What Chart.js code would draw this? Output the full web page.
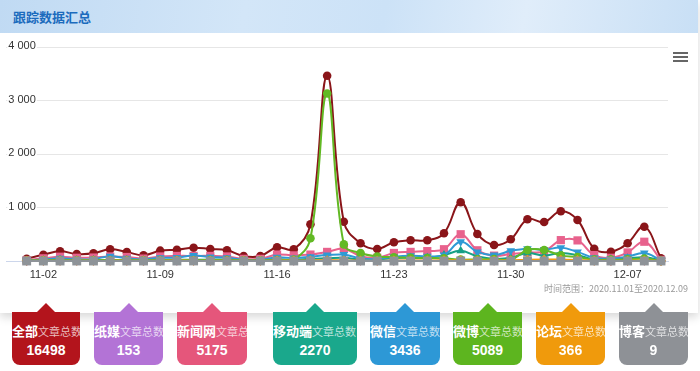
<!DOCTYPE html>
<html>
<head>
<meta charset="utf-8">
<script src="https://cdn.jsdelivr.net/npm/chart.js@4.4.0/dist/chart.umd.min.js"></script>
<style>
  html, body { margin: 0; padding: 0; background: #fff; width: 700px; height: 371px; overflow: hidden;
    font-family: Arial, "Liberation Sans", "Noto Sans CJK SC", sans-serif; }
  #panel { position: absolute; left: 0; top: 0; width: 698px; height: 313px; background: #fff;
    box-shadow: 0 4px 9px rgba(0,0,0,0.16); }
  #head { position: absolute; left: 0; top: 0; width: 698px; height: 33px;
    background: linear-gradient(100deg, #c0daf3 0%, #d3e6f8 35%, #cce2f7 55%, #e0edfa 75%, #c8dff5 100%); }
  #head span { position: absolute; left: 13px; top: 8px; font-size: 13px; font-weight: bold; color: #1b6bbd;
    font-family: "Noto Sans CJK SC", sans-serif; line-height: 18px; }
  #menu { position: absolute; left: 673px; top: 52px; width: 15px; }
  #menu i { display: block; height: 2px; background: #666; margin-bottom: 2px; }
  #range { position: absolute; right: 10px; top: 282px; font-size: 9px; color: #999; white-space: nowrap;
    font-family: "Noto Sans CJK SC", sans-serif; }
  canvas { position: absolute; left: 0; top: 33px; }
  .card { position: absolute; top: 312px; height: 53px; border-radius: 0 0 8px 8px; color: #fff; }
  .card:before { content: ""; position: absolute; top: -9px; left: 50%; margin-left: -9px;
    border-left: 9px solid transparent; border-right: 9px solid transparent; border-bottom: 9px solid; border-bottom-color: inherit; }
  .card .t { position: absolute; left: 0; top: 8px; white-space: nowrap; line-height: 18px;
    font-family: "Noto Sans CJK SC", sans-serif; }
  .card .t b { font-size: 13px; }
  .card .t span { font-size: 11px; color: rgba(255,255,255,0.72); }
  .card .n { position: absolute; left: 0; right: 0; top: 30px; text-align: center; font-size: 14px; font-weight: bold;
    line-height: 16px; }
</style>
</head>
<body>
<div id="panel">
  <div id="head"><span>跟踪数据汇总</span></div>
  <div id="menu"><i></i><i></i><i></i></div>
  <canvas id="chartTrend" width="700" height="267"></canvas>
  <div id="range">时间范围：2020.11.01至2020.12.09</div>
</div>
<div id="cards"></div>

<script>
// categories (one per day)
const dates = ['11-01','11-02','11-03','11-04','11-05','11-06','11-07','11-08','11-09','11-10',
  '11-11','11-12','11-13','11-14','11-15','11-16','11-17','11-18','11-19','11-20',
  '11-21','11-22','11-23','11-24','11-25','11-26','11-27','11-28','11-29','11-30',
  '12-01','12-02','12-03','12-04','12-05','12-06','12-07','12-08','12-09'];
const xTickLabels = ['11-02','11-09','11-16','11-23','11-30','12-07'];
const yTicks = [0, 1000, 2000, 3000, 4000];

const seriesNames = ['全部','纸媒','新闻网','移动端','微信','微博','论坛','博客'];
const totals = [16498, 153, 5175, 2270, 3436, 5089, 366, 9];

// daily values
const quanbu = [43,118,181,131,144,219,168,107,193,211,249,224,200,93,93,256,219,686,3463,734,
  331,224,350,387,387,518,1097,505,299,406,779,729,929,766,230,174,331,641,50];
const zhimei = [2,3,4,5,3,5,4,2,6,4,5,3,4,2,3,5,4,6,8,5,4,3,4,5,3,4,6,4,3,5,4,3,5,4,3,2,4,3,1];
const xinwen = [15,50,80,60,65,85,75,45,85,95,95,95,85,40,40,120,105,120,170,230,
  90,60,150,170,185,220,500,200,100,130,160,180,390,385,110,60,160,360,20];
const yidong = [5,15,25,15,20,20,20,12,20,22,25,25,25,10,10,30,25,40,50,60,
  25,25,55,60,60,110,190,90,40,60,150,100,150,110,25,35,50,70,10];
const weixin = [10,30,50,30,35,90,50,30,60,65,105,75,60,25,25,70,55,80,110,120,
  50,35,80,100,90,110,360,170,110,190,230,210,250,170,60,45,80,150,15];
const weibo = [8,15,15,15,15,12,12,12,15,15,12,20,20,12,12,20,22,425,3130,310,
  150,85,70,60,55,50,25,30,35,20,205,205,105,75,25,25,30,45,3];
const luntan = [3,6,7,6,6,7,7,6,7,8,7,6,6,4,3,8,8,10,15,9,8,6,8,10,10,12,14,10,8,12,25,28,25,20,6,5,7,10,1];
const boke = [0,0,0,0,0,0,0,0,0,0,1,0,0,0,0,0,0,1,2,1,0,0,0,0,1,0,1,0,0,0,1,0,0,1,0,0,0,0,0];

// estilos
const lineColors = ['#8a1519','#a66fcf','#e8628d','#17a085','#2f9ad5','#62b924','#f09c12','#8e9398'];
const cardColors = ['#b3141c','#b373d6','#e5567b','#1aa88c','#2d98d6','#5db51f','#f09a0c','#8e9196'];
const cardLeft = [12, 94, 177, 273, 370, 453, 536, 619];
const cardWidth = [68, 69, 70, 84, 70, 69, 69, 69];
const pointStyles = ['circle','rectRot','rect','triangle','triangle','circle','rectRot','rect'];
const pointRot = [0, 0, 0, 0, 180, 0, 0, 0];
const pointSizes = [4.3, 5, 5.8, 5, 5, 4.3, 5, 6.3];

const valores = [quanbu, zhimei, xinwen, yidong, weixin, weibo, luntan, boke];

function formatarMil(v) {
  return String(v).replace(/\B(?=(\d{3})+(?!\d))/g, ' ');
}

function desenharGrafico() {
  const ctx = document.getElementById('chartTrend').getContext('2d');
  const datasets = valores.map((serie, i) => ({
    label: seriesNames[i],
    data: serie.map((v, d) => ({ x: d, y: v })),
    borderColor: lineColors[i],
    backgroundColor: lineColors[i],
    pointBackgroundColor: lineColors[i],
    pointStyle: pointStyles[i],
    pointRotation: pointRot[i],
    pointRadius: pointSizes[i],
    pointBorderWidth: 0,
    borderWidth: 2,
    tension: 0.4,
    fill: false,
    clip: false,
    order: seriesNames.length - i // later series drawn on top, like the original
  }));

  new Chart(ctx, {
    type: 'line',
    data: { datasets: datasets },
    options: {
      animation: false,
      responsive: false,
      devicePixelRatio: 1,
      layout: { padding: { left: 2, right: 32, top: 14, bottom: 0 } },
      plugins: { legend: { display: false }, tooltip: { enabled: false } },
      scales: {
        x: {
          type: 'linear',
          min: -1.22,
          max: 38.42,
          grid: { drawOnChartArea: false, drawTicks: true, tickLength: 5, color: '#ccd6eb' },
          border: { color: '#ccd6eb' },
          ticks: {
            autoSkip: false, maxRotation: 0, padding: 2, color: '#333',
            font: { size: 11, family: 'Arial, "Liberation Sans", sans-serif' },
            callback: v => dates[v]
          },
          afterBuildTicks: s => { s.ticks = xTickLabels.map(l => ({ value: dates.indexOf(l) })); },
          afterFit: s => { s.height = 39; }
        },
        y: {
          min: yTicks[0],
          max: yTicks[yTicks.length - 1],
          afterBuildTicks: s => { s.ticks = yTicks.map(v => ({ value: v })); },
          grid: { color: '#e6e6e6', drawTicks: false },
          border: { display: false },
          ticks: {
            mirror: true, padding: 2, color: '#333', labelOffset: -1,
            showLabelBackdrop: true, backdropColor: '#fff', backdropPadding: { left: 1, right: 1, top: 0, bottom: 0 },
            font: { size: 11, family: 'Arial, "Liberation Sans", sans-serif' },
            callback: v => v === 0 ? null : formatarMil(v)
          }
        }
      }
    }
  });
}

function renderizarCards() {
  const box = document.getElementById('cards');
  seriesNames.forEach((nome, i) => {
    box.innerHTML += `
      <div class="card" style="left:${cardLeft[i]}px;width:${cardWidth[i]}px;background:${cardColors[i]};border-bottom-color:${cardColors[i]}">
        <div class="t"><b>${nome}</b><span>文章总数</span></div>
        <div class="n">${totals[i]}</div>
      </div>`;
  });
}

window.onload = () => {
  desenharGrafico();
  renderizarCards();
};
</script>
</body>
</html>
